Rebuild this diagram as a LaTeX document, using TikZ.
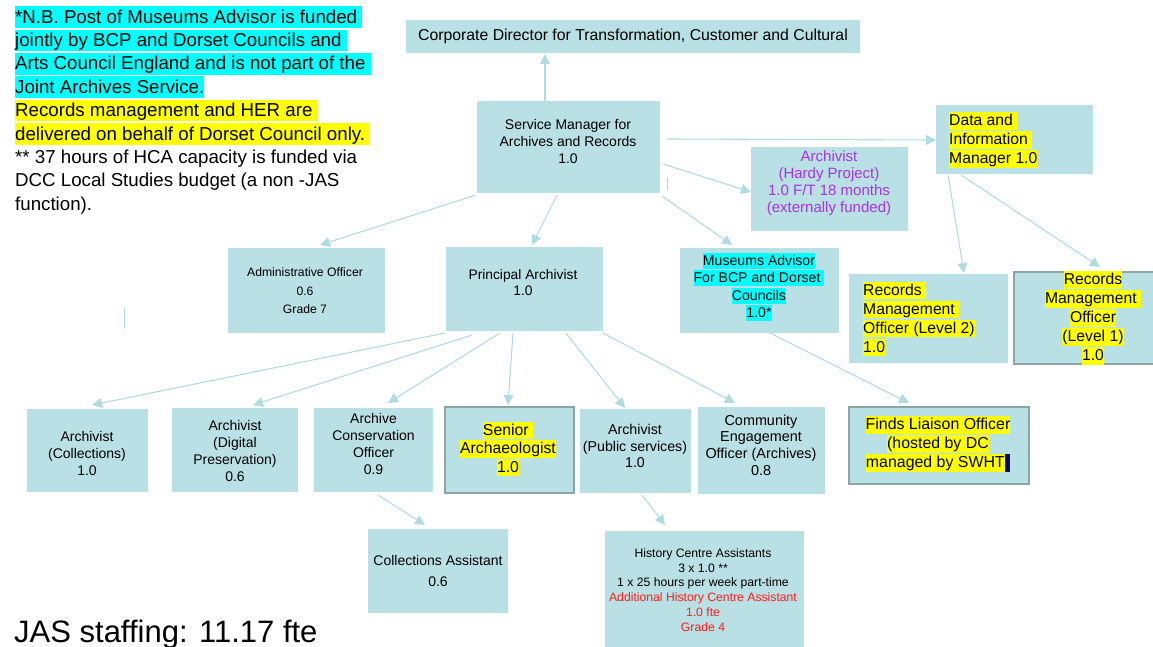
\documentclass[tikz,border=0pt]{standalone}
\usepackage{fontspec}
\setmainfont{Liberation Sans}
\usetikzlibrary{arrows.meta,calc}

\definecolor{boxfill}{RGB}{185,224,228}
\definecolor{linkcol}{RGB}{176,219,225}
\definecolor{edgegray}{RGB}{140,165,168}
\definecolor{hlyellow}{RGB}{255,255,0}
\definecolor{hlcyan}{RGB}{0,255,255}
\definecolor{projpurple}{RGB}{170,50,230}
\definecolor{newred}{RGB}{250,30,30}
\definecolor{selnavy}{RGB}{10,10,110}

\newcommand\fsz[2]{\fontsize{#1}{#2}\selectfont}
\newcommand\hlbox[2]{{\setlength\fboxsep{0pt}\colorbox{#1}{\rule[-.2\baselineskip]{0pt}{.92\baselineskip}#2}}}
\newcommand\hly[1]{\hlbox{hlyellow}{#1}}
\newcommand\hlc[1]{\hlbox{hlcyan}{#1}}

\tikzset{
  orgbox/.style={fill=boxfill, draw=none, inner sep=0pt, anchor=north west},
  grayedge/.style={draw=edgegray, line width=1.6pt},
  lbl/.style={inner sep=0pt, align=center, text=black},
  link/.style={draw=linkcol, line width=1.1pt, -{Triangle[length=10pt,width=10pt]}},
  stray/.style={draw=linkcol, line width=1pt}
}

\begin{document}
\begin{tikzpicture}[x=1pt,y=-1pt]
\useasboundingbox (0,0) rectangle (1153,647);

% ---- boxes ----
\node[orgbox, minimum width=454pt, minimum height=33pt] (corp) at (406,20) {};
\node[orgbox, minimum width=183pt, minimum height=92pt] (sm) at (477,101) {};
\node[orgbox, minimum width=157pt, minimum height=84pt] (hardy) at (751,147) {};
\node[orgbox, minimum width=157pt, minimum height=69pt] (data) at (936,105) {};
\node[orgbox, minimum width=159pt, minimum height=89pt] (rmo2) at (849,274) {};
\node[orgbox, grayedge, minimum width=160pt, minimum height=92pt] (rmo1) at (1013,271) {};
\node[orgbox, minimum width=157pt, minimum height=85pt] (admin) at (228,248) {};
\node[orgbox, minimum width=157pt, minimum height=84pt] (princ) at (446,247) {};
\node[orgbox, minimum width=159pt, minimum height=85pt] (mus) at (680,248) {};
\node[orgbox, minimum width=121pt, minimum height=83pt] (coll) at (27,409) {};
\node[orgbox, minimum width=126pt, minimum height=84pt] (digi) at (172,408) {};
\node[orgbox, minimum width=119pt, minimum height=84pt] (cons) at (314,408) {};
\node[orgbox, grayedge, minimum width=129pt, minimum height=86pt] (senior) at (444,406) {};
\node[orgbox, minimum width=111pt, minimum height=84pt] (pub) at (580,409) {};
\node[orgbox, minimum width=127pt, minimum height=87pt] (comm) at (698,407) {};
\node[orgbox, grayedge, minimum width=180pt, minimum height=77pt] (finds) at (848,406) {};
\node[orgbox, minimum width=140pt, minimum height=84pt] (casst) at (368,529) {};
\node[orgbox, minimum width=199pt, minimum height=130pt] (hca) at (605,531) {};

% ---- box texts ----
\node[lbl, font=\fsz{15.8}{17}] (corp-t) at (633,36) {Corporate Director for Transformation, Customer and Cultural};
\node[lbl, font=\fsz{14}{17}] (sm-t) at (568,141) {Service Manager for\\Archives and Records\\1.0};
\node[lbl, font=\fsz{15}{17}, text=projpurple] (hardy-t) at (829,183) {Archivist\\\textcolor{projpurple}{(Hardy Project)}\\\textcolor{projpurple}{1.0 F/T 18 months}\\\textcolor{projpurple}{(externally funded)}};
\node[lbl, align=left, anchor=west, font=\fsz{15.7}{19}] (data-t) at (949,140) {\hly{Data and\ }\\\hly{Information\ }\\\hly{Manager 1.0}};
\node[lbl, align=left, anchor=west, font=\fsz{15.7}{19}] (rmo2-t) at (863,319) {\hly{Records\ }\\\hly{Management\ }\\\hly{Officer (Level 2)}\\\hly{1.0}};
\node[lbl, font=\fsz{15.7}{19}] (rmo1-t) at (1093,318) {\hly{Records}\\\hly{Management\ }\\\hly{Officer}\\\hly{(Level 1)}\\\hly{1.0}};
\node[lbl, font=\fsz{12.2}{18.5}] (admin-t) at (305,291) {Administrative Officer\\0.6\\Grade 7};
\node[lbl, font=\fsz{13.8}{16}] (princ-t) at (523,283) {Principal Archivist\\1.0};
\node[lbl, font=\fsz{14.1}{17.3}] (mus-t) at (759,287) {\hlc{Museums Advisor}\\\hlc{For BCP and Dorset\ }\\\hlc{Councils}\\\hlc{1.0*}};
\node[lbl, font=\fsz{14}{17}] (coll-t) at (87,453) {Archivist\\(Collections)\\1.0};
\node[lbl, font=\fsz{14}{17}] (digi-t) at (235,450.5) {Archivist\\(Digital\\Preservation)\\0.6};
\node[lbl, font=\fsz{14}{16.8}] (cons-t) at (373.5,444) {Archive\\Conservation\\Officer\\0.9};
\node[lbl, font=\fsz{15.8}{18.8}] (senior-t) at (508,449) {\hly{Senior\ }\\\hly{Archaeologist}\\\hly{1.0}};
\node[lbl, font=\fsz{14.2}{16.5}] (pub-t) at (635,446) {Archivist\\(Public services)\\1.0};
\node[lbl, font=\fsz{14.4}{16.6}] (comm-t) at (761,445) {Community\\Engagement\\Officer (Archives)\\0.8};
\node[lbl, font=\fsz{15.9}{19}] (finds-t) at (938,444) {\hly{Finds Liaison Officer}\\\hly{(hosted by DC}\\\hly{managed by SWHT}\hlbox{selnavy}{\textcolor{selnavy!50!black}{)}}};
\node[lbl, font=\fsz{14}{21}] (casst-t) at (438,570.5) {Collections Assistant\\0.6};
\node[lbl, font=\fsz{12.2}{14.8}] (hca-t) at (703,590) {History Centre Assistants\\3 x 1.0 **\\1 x 25 hours per week part-time\\\textcolor{newred}{Additional History Centre Assistant}\\\textcolor{newred}{1.0 fte}\\\textcolor{newred}{Grade 4}};

% ---- notes ----
\node[lbl, align=left, anchor=north west, font=\fsz{18.7}{23.4}] (note) at (15,6) {%
\hlc{*N.B. Post of Museums Advisor is funded\ }\\
\hlc{jointly by BCP and Dorset Councils and\ }\\
\hlc{Arts Council England and is not part of the\ }\\
\hlc{Joint Archives Service.}\\
\hly{Records management and HER are\ }\\
\hly{delivered on behalf of Dorset Council only.\ }\\
** 37 hours of HCA capacity is funded via\\
DCC Local Studies budget (a non -JAS\\
function).};
\node[lbl, anchor=base west, font=\fsz{31}{36}] (jas) at (14,642) {JAS staffing: 11.17 fte};

% ---- reporting lines ----
\draw[link] ($(sm.north west)+(68,0)$) -- ($(corp.north west)+(139,34)$);
\draw[link] ($(sm.north west)+(190,38)$) -- ($(data.north west)+(0,35)$);
\draw[link] ($(sm.north west)+(186,63)$) -- ($(hardy.north west)+(0,45)$);
\draw[link] ($(sm.north west)+(-1,94)$) -- ($(admin.north west)+(92,-3)$);
\draw[link] ($(sm.north west)+(80,94)$) -- ($(princ.north west)+(86,-2)$);
\draw[link] ($(sm.north west)+(185,95)$) -- ($(mus.north west)+(52,-3)$);
\draw[link] ($(data.north west)+(12,70)$) -- ($(rmo2.north west)+(115,-1)$);
\draw[link] ($(data.north west)+(25,70)$) -- ($(rmo1.north west)+(87,-4)$);
\draw[link] ($(princ.north west)+(-1,86)$) -- ($(coll.north west)+(65,-4)$);
\draw[link] ($(princ.north west)+(26,88)$) -- ($(digi.north west)+(81,-3)$);
\draw[link] ($(princ.north west)+(54,86)$) -- ($(cons.north west)+(74,-5)$);
\draw[link] ($(princ.north west)+(67,86)$) -- ($(senior.north west)+(64,-1)$);
\draw[link] ($(princ.north west)+(120,86)$) -- ($(pub.north west)+(45,-1)$);
\draw[link] ($(princ.north west)+(157,86)$) -- ($(comm.north west)+(37,-4)$);
\draw[link] ($(mus.north west)+(90,85)$) -- ($(finds.north west)+(61,-3)$);
\draw[link] ($(cons.north west)+(64,87)$) -- ($(casst.north west)+(57,-4)$);
\draw[link] ($(pub.north west)+(62,86)$) -- ($(hca.north west)+(60,-6)$);

% ---- loose line fragments ----
\coordinate (frag1a) at (124,307);
\coordinate (frag1b) at (124,329);
\draw[stray] (frag1a) -- (frag1b);
\coordinate (frag2a) at (667,178);
\coordinate (frag2b) at (667,190);
\draw[stray] (frag2a) -- (frag2b);
\end{tikzpicture}
\end{document}
